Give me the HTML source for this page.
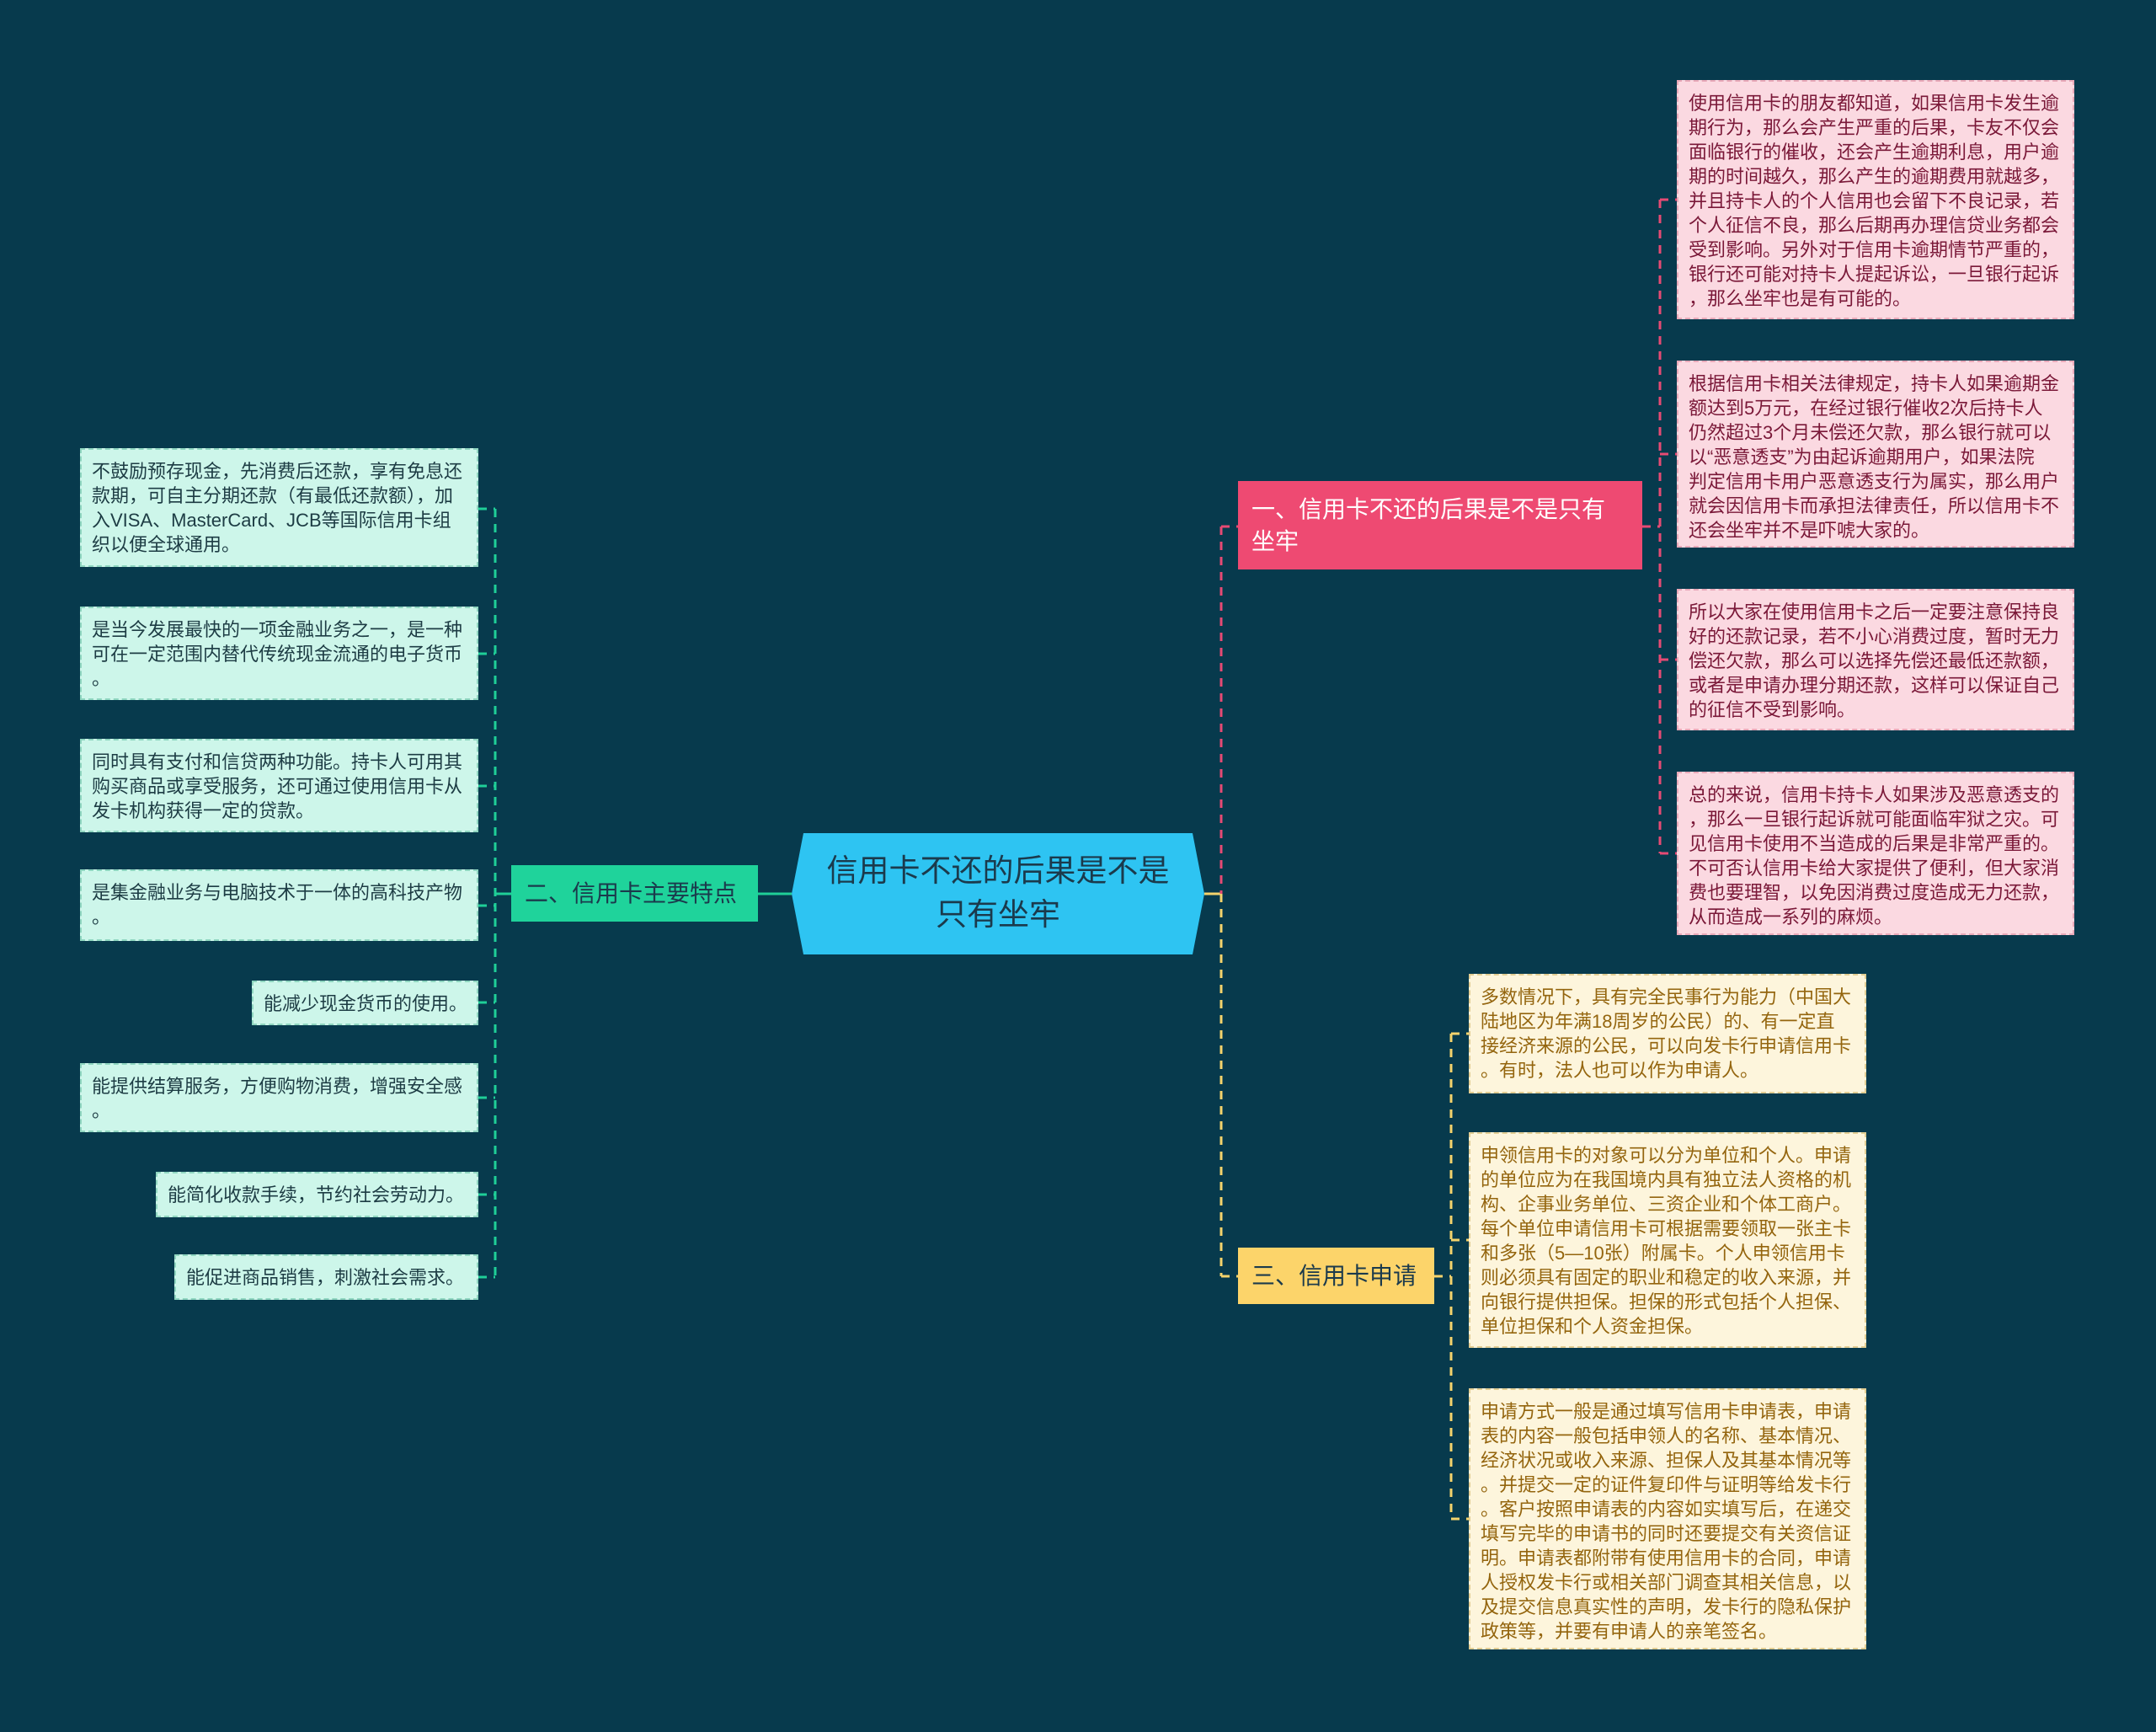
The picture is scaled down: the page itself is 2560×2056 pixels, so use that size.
<!DOCTYPE html>
<html><head><meta charset="utf-8"><style>
body{margin:0;width:2560px;height:2056px;background:#073a4d;position:relative;overflow:hidden;font-family:"Liberation Sans","Noto Sans CJK SC",sans-serif;}
.b{position:absolute;box-sizing:border-box;font-size:22px;line-height:29px;padding:11px 12px;white-space:nowrap;}
.g{background:#cdf6ea;color:#1d3c44;border:2px dashed #8fd6c0;}
.p{background:#fbd9e1;color:#7a1838;border:2px dashed #e9a9b9;}
.y{background:#fdf5dc;color:#94650e;border:2px dashed #e2cd92;}
.br{position:absolute;box-sizing:border-box;font-size:28px;line-height:38px;padding:0 16px;display:flex;align-items:center;}
</style></head><body>
<svg width="2560" height="2056" style="position:absolute;left:0;top:0">
<g fill="none" stroke-width="3">
<line x1="900" y1="1061" x2="940" y2="1061" stroke="#1fcf98"/>
<line x1="588" y1="1061" x2="607" y2="1061" stroke="#1fcf98"/>
<g stroke="#1fcf98" stroke-dasharray="10,8">
<line x1="588" y1="604" x2="588" y2="1516"/>
<line x1="568" y1="604" x2="588" y2="604"/>
<line x1="568" y1="776" x2="588" y2="776"/>
<line x1="568" y1="933" x2="588" y2="933"/>
<line x1="568" y1="1075" x2="588" y2="1075"/>
<line x1="568" y1="1190" x2="588" y2="1190"/>
<line x1="568" y1="1303" x2="588" y2="1303"/>
<line x1="568" y1="1418" x2="588" y2="1418"/>
<line x1="568" y1="1516" x2="588" y2="1516"/>
</g>
<line x1="1430" y1="1061" x2="1450" y2="1061" stroke="#f4d36c"/>
<line x1="1450" y1="625" x2="1450" y2="1061" stroke="#e64a74" stroke-dasharray="10,8"/>
<line x1="1450" y1="625" x2="1470" y2="625" stroke="#e64a74" stroke-dasharray="10,8"/>
<line x1="1450" y1="1061" x2="1450" y2="1515" stroke="#f4d36c" stroke-dasharray="10,8"/>
<line x1="1450" y1="1515" x2="1470" y2="1515" stroke="#f4d36c" stroke-dasharray="10,8"/>
<g stroke="#e64a74" stroke-dasharray="10,8">
<line x1="1971" y1="237" x2="1971" y2="1013"/>
<line x1="1950" y1="625" x2="1971" y2="625"/>
<line x1="1971" y1="237" x2="1991" y2="237"/>
<line x1="1971" y1="539" x2="1991" y2="539"/>
<line x1="1971" y1="783" x2="1991" y2="783"/>
<line x1="1971" y1="1013" x2="1991" y2="1013"/>
</g>
<g stroke="#f4d36c" stroke-dasharray="10,8">
<line x1="1723" y1="1227" x2="1723" y2="1803"/>
<line x1="1703" y1="1515" x2="1723" y2="1515"/>
<line x1="1723" y1="1227" x2="1744" y2="1227"/>
<line x1="1723" y1="1472" x2="1744" y2="1472"/>
<line x1="1723" y1="1803" x2="1744" y2="1803"/>
</g>
</g>
<polygon points="940,1061 954,989 1416,989 1430,1061 1416,1133 954,1133" fill="#2ec4f2"/>
<text x="1185" y="1046" text-anchor="middle" font-size="37" fill="#1b3a4c" font-family="Liberation Sans, Noto Sans CJK SC, sans-serif">信用卡不还的后果是不是</text>
<text x="1185" y="1098" text-anchor="middle" font-size="37" fill="#1b3a4c" font-family="Liberation Sans, Noto Sans CJK SC, sans-serif">只有坐牢</text>
</svg>

<div class="br" style="left:607px;top:1027px;width:293px;height:67px;background:#1fd39b;color:#1b3a4c;">二、信用卡主要特点</div>
<div class="br" style="left:1470px;top:571px;width:480px;height:105px;background:#ee4a72;color:#fff;line-height:38px;">一、信用卡不还的后果是不是只有<br>坐牢</div>
<div class="br" style="left:1470px;top:1481px;width:233px;height:67px;background:#fcd46a;color:#1b3a4c;">三、信用卡申请</div>

<div class="b g" style="left:95px;top:532px;width:473px;height:141px;">不鼓励预存现金，先消费后还款，享有免息还<br>款期，可自主分期还款（有最低还款额），加<br>入VISA、MasterCard、JCB等国际信用卡组<br>织以便全球通用。</div>
<div class="b g" style="left:95px;top:720px;width:473px;height:111px;">是当今发展最快的一项金融业务之一，是一种<br>可在一定范围内替代传统现金流通的电子货币<br>。</div>
<div class="b g" style="left:95px;top:877px;width:473px;height:111px;">同时具有支付和信贷两种功能。持卡人可用其<br>购买商品或享受服务，还可通过使用信用卡从<br>发卡机构获得一定的贷款。</div>
<div class="b g" style="left:95px;top:1032px;width:473px;height:85px;">是集金融业务与电脑技术于一体的高科技产物<br>。</div>
<div class="b g" style="left:299px;top:1164px;width:269px;height:53px;">能减少现金货币的使用。</div>
<div class="b g" style="left:95px;top:1262px;width:473px;height:82px;">能提供结算服务，方便购物消费，增强安全感<br>。</div>
<div class="b g" style="left:185px;top:1391px;width:383px;height:54px;">能简化收款手续，节约社会劳动力。</div>
<div class="b g" style="left:207px;top:1489px;width:361px;height:54px;">能促进商品销售，刺激社会需求。</div>

<div class="b p" style="left:1991px;top:95px;width:472px;height:284px;">使用信用卡的朋友都知道，如果信用卡发生逾<br>期行为，那么会产生严重的后果，卡友不仅会<br>面临银行的催收，还会产生逾期利息，用户逾<br>期的时间越久，那么产生的逾期费用就越多，<br>并且持卡人的个人信用也会留下不良记录，若<br>个人征信不良，那么后期再办理信贷业务都会<br>受到影响。另外对于信用卡逾期情节严重的，<br>银行还可能对持卡人提起诉讼，一旦银行起诉<br>，那么坐牢也是有可能的。</div>
<div class="b p" style="left:1991px;top:428px;width:472px;height:222px;">根据信用卡相关法律规定，持卡人如果逾期金<br>额达到5万元，在经过银行催收2次后持卡人<br>仍然超过3个月未偿还欠款，那么银行就可以<br>以“恶意透支”为由起诉逾期用户，如果法院<br>判定信用卡用户恶意透支行为属实，那么用户<br>就会因信用卡而承担法律责任，所以信用卡不<br>还会坐牢并不是吓唬大家的。</div>
<div class="b p" style="left:1991px;top:699px;width:472px;height:168px;">所以大家在使用信用卡之后一定要注意保持良<br>好的还款记录，若不小心消费过度，暂时无力<br>偿还欠款，那么可以选择先偿还最低还款额，<br>或者是申请办理分期还款，这样可以保证自己<br>的征信不受到影响。</div>
<div class="b p" style="left:1991px;top:916px;width:472px;height:194px;">总的来说，信用卡持卡人如果涉及恶意透支的<br>，那么一旦银行起诉就可能面临牢狱之灾。可<br>见信用卡使用不当造成的后果是非常严重的。<br>不可否认信用卡给大家提供了便利，但大家消<br>费也要理智，以免因消费过度造成无力还款，<br>从而造成一系列的麻烦。</div>

<div class="b y" style="left:1744px;top:1156px;width:472px;height:142px;">多数情况下，具有完全民事行为能力（中国大<br>陆地区为年满18周岁的公民）的、有一定直<br>接经济来源的公民，可以向发卡行申请信用卡<br>。有时，法人也可以作为申请人。</div>
<div class="b y" style="left:1744px;top:1344px;width:472px;height:256px;">申领信用卡的对象可以分为单位和个人。申请<br>的单位应为在我国境内具有独立法人资格的机<br>构、企事业务单位、三资企业和个体工商户。<br>每个单位申请信用卡可根据需要领取一张主卡<br>和多张（5—10张）附属卡。个人申领信用卡<br>则必须具有固定的职业和稳定的收入来源，并<br>向银行提供担保。担保的形式包括个人担保、<br>单位担保和个人资金担保。</div>
<div class="b y" style="left:1744px;top:1648px;width:472px;height:310px;">申请方式一般是通过填写信用卡申请表，申请<br>表的内容一般包括申领人的名称、基本情况、<br>经济状况或收入来源、担保人及其基本情况等<br>。并提交一定的证件复印件与证明等给发卡行<br>。客户按照申请表的内容如实填写后，在递交<br>填写完毕的申请书的同时还要提交有关资信证<br>明。申请表都附带有使用信用卡的合同，申请<br>人授权发卡行或相关部门调查其相关信息，以<br>及提交信息真实性的声明，发卡行的隐私保护<br>政策等，并要有申请人的亲笔签名。</div>
</body></html>
